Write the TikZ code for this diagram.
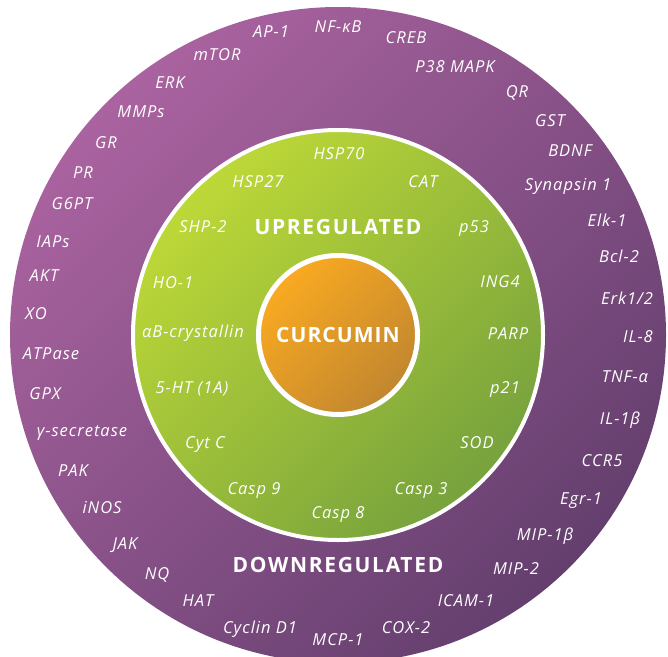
\documentclass[tikz,border=0pt]{standalone}
\usepackage{fontspec}
\setmainfont{Open Sans}
\usetikzlibrary{positioning}
\definecolor{PlumLight}{HTML}{AA63A0}
\definecolor{PlumDark}{HTML}{643F6E}
\definecolor{LimeLight}{HTML}{BDD837}
\definecolor{LimeDark}{HTML}{77A23D}
\definecolor{TurmericLight}{HTML}{FAAA21}
\definecolor{TurmericDark}{HTML}{C1862F}

\begin{document}
\begin{tikzpicture}[x=1pt, y=-1pt,
    gene/.style={font=\fontsize{16.5}{19}\selectfont\itshape\addfontfeatures{LetterSpace=6},
      text=white, inner sep=0pt, text height=11.8pt, text depth=0pt},
    group/.style={font=\fontsize{21}{24}\selectfont\bfseries\addfontfeatures{LetterSpace=8},
      text=white, inner sep=0pt, text height=15pt, text depth=0pt}]
    \useasboundingbox (0,0) rectangle (668,656);
    \clip (0,0) rectangle (668,656);
    \coordinate (core) at (338,335);
    % Outer ring: downregulated targets
    \shade[top color=PlumLight, bottom color=PlumDark, shading angle=45]
      (core) circle[radius=328pt];
    % Middle disc: upregulated targets
    \shade[top color=LimeLight, bottom color=LimeDark, shading angle=45]
      (core) circle[radius=205pt];
    \draw[white, line width=4pt] (core) circle[radius=205pt];
    % Centre disc
    \shade[top color=TurmericLight, bottom color=TurmericDark, shading angle=45]
      (core) circle[radius=79.5pt];
    \draw[white, line width=5pt] (core) circle[radius=79.5pt];
    \node[group, font=\fontsize{21}{24}\selectfont\bfseries\addfontfeatures{LetterSpace=5}] (curcumin) at (core) {CURCUMIN};
    \node[group] (up) at (338,227) {UPREGULATED};
    \node[group] (down) at (338,565) {DOWNREGULATED};
    % Upregulated
    \node[gene] (hsp70) at (339,154) {HSP70};
    \node[gene] (cat) at (423,182) {CAT};
    \node[gene] (p53) at (474,227) {p53};
    \node[gene] (ing4) at (500,282) {ING4};
    \node[gene] (parp) at (508,334) {PARP};
    \node[gene] (p21) at (505,388) {p21};
    \node[gene] (sod) at (477,443) {SOD};
    \node[gene] (casp3) at (421,489) {Casp 3};
    \node[gene] (casp8) at (338,513) {Casp 8};
    \node[gene] (casp9) at (254,489) {Casp 9};
    \node[gene] (cytc) at (205,443) {Cyt C};
    \node[gene] (ht1a) at (192,388) {5-HT (1A)};
    \node[gene] (abcry) at (193,332) {αB-crystallin};
    \node[gene] (ho1) at (173,283) {HO-1};
    \node[gene] (shp2) at (203,227) {SHP-2};
    \node[gene] (hsp27) at (258,182) {HSP27};
    % Downregulated
    \node[gene] (ap1) at (271,32) {AP-1};
    \node[gene] (nfkb) at (338,27) {NF-κB};
    \node[gene] (creb) at (406,38) {CREB};
    \node[gene] (p38) at (455,67) {P38 MAPK};
    \node[gene] (qr) at (517,92) {QR};
    \node[gene] (gst) at (550,121) {GST};
    \node[gene] (bdnf) at (570,151) {BDNF};
    \node[gene] (syn1) at (568,185) {Synapsin 1};
    \node[gene] (elk1) at (607,221) {Elk-1};
    \node[gene] (bcl2) at (619,257) {Bcl-2};
    \node[gene] (erk12) at (627,299) {Erk1/2};
    \node[gene] (il8) at (638,337) {IL-8};
    \node[gene] (tnfa) at (625,377) {TNF-α};
    \node[gene] (il1b) at (620,419) {IL-1β};
    \node[gene] (ccr5) at (602,461) {CCR5};
    \node[gene] (egr1) at (581,499) {Egr-1};
    \node[gene] (mip1b) at (545,535) {MIP-1β};
    \node[gene] (mip2) at (516,569) {MIP-2};
    \node[gene] (icam1) at (466,601) {ICAM-1};
    \node[gene] (cox2) at (406,628) {COX-2};
    \node[gene] (mcp1) at (338,640) {MCP-1};
    \node[gene] (cycd1) at (260,628) {Cyclin D1};
    \node[gene] (hat) at (198,601) {HAT};
    \node[gene] (nq) at (157,574) {NQ};
    \node[gene] (jak) at (125,544) {JAK};
    \node[gene] (inos) at (102,508) {iNOS};
    \node[gene] (pak) at (73,471) {PAK};
    \node[gene] (gsec) at (82,431) {γ-secretase};
    \node[gene] (gpx) at (45,394) {GPX};
    \node[gene] (atpase) at (51,354) {ATPase};
    \node[gene] (xo) at (36,314) {XO};
    \node[gene] (akt) at (44,276) {AKT};
    \node[gene] (iaps) at (53,242) {IAPs};
    \node[gene] (g6pt) at (72,204) {G6PT};
    \node[gene] (pr) at (83,173) {PR};
    \node[gene] (gr) at (106,143) {GR};
    \node[gene] (mmps) at (141,112) {MMPs};
    \node[gene] (erk) at (170,83) {ERK};
    \node[gene] (mtor) at (217,55) {mTOR};
\end{tikzpicture}
\end{document}
